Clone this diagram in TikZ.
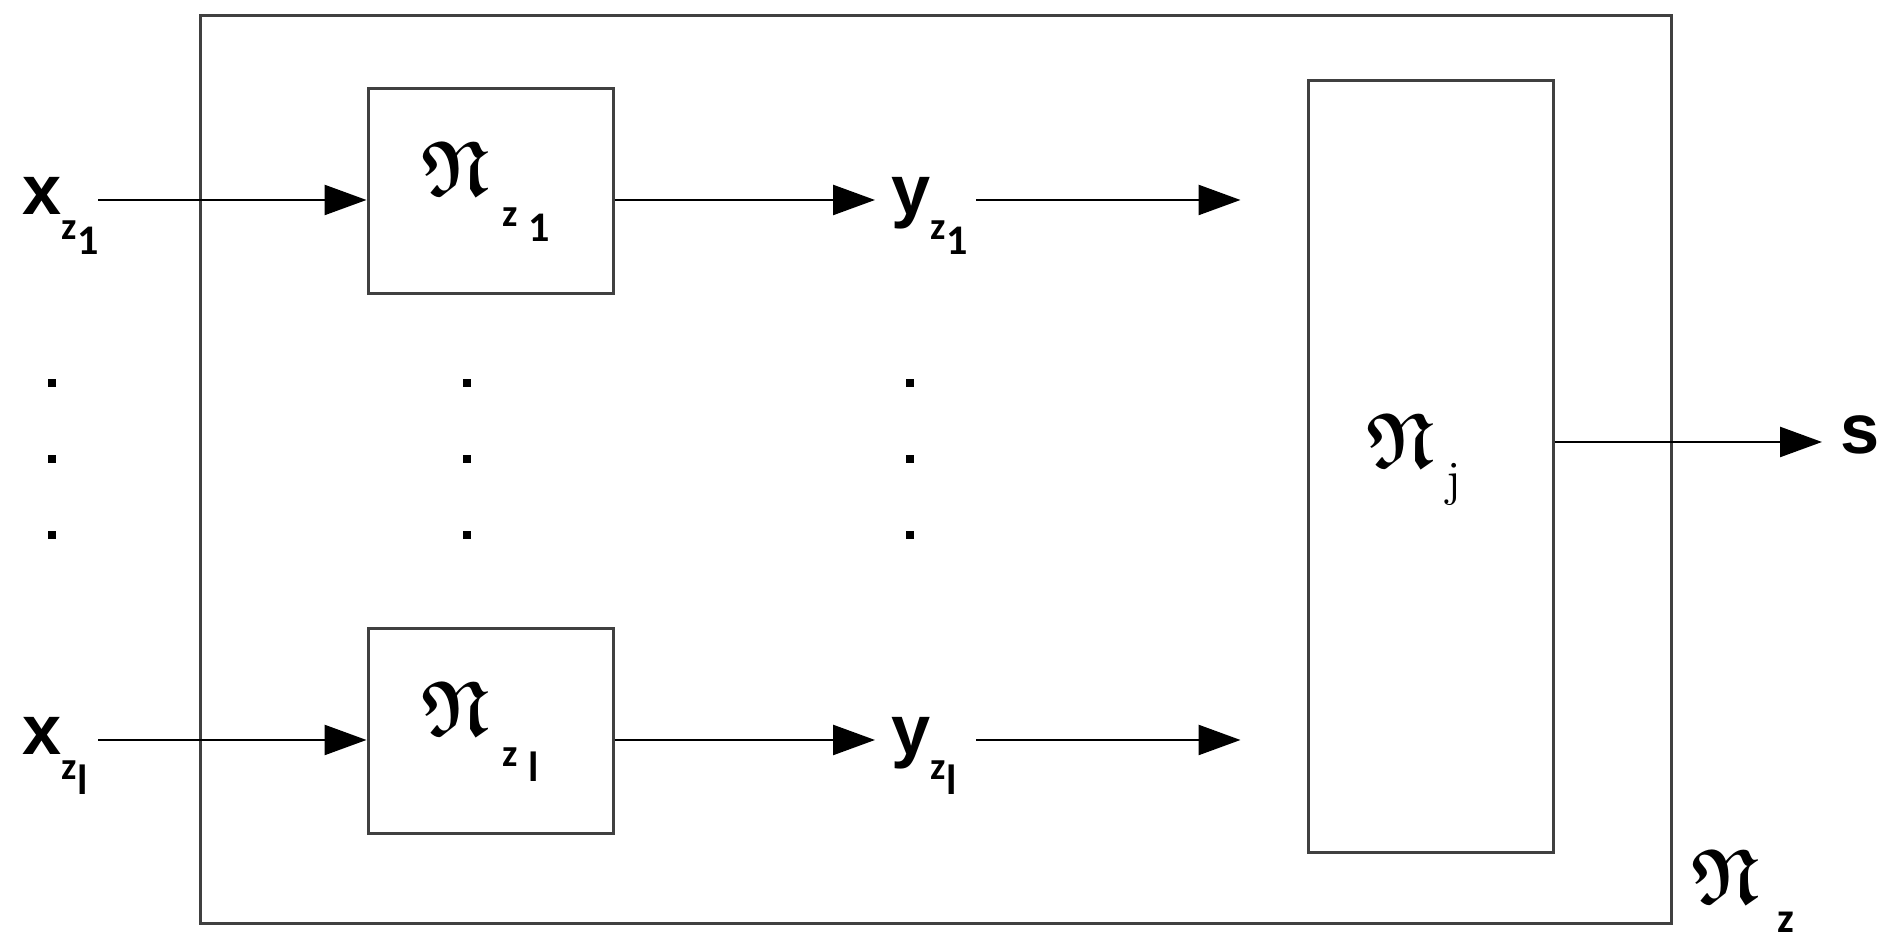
\documentclass[tikz,border=0pt]{standalone}
\usepackage{amssymb}
\usepackage{bm}
\usepackage{fontspec}
\newfontfamily\lsans{Liberation Sans}
\newfontfamily\carl{Carlito}
\usetikzlibrary{arrows.meta,positioning}

\newcommand{\zfont}{\carl\bfseries\fontsize{11}{11}\selectfont}
\newcommand{\nfont}{\carl\bfseries\fontsize{12}{12}\selectfont}
\newcommand{\idx}[3][0mm]{\raisebox{-2.5mm}{\zfont #2}\hspace{#1}\raisebox{-4mm}{\nfont #3}}
\newcommand{\frakN}{\scalebox{0.95}[1.08]{\fontsize{20.74}{20.74}\selectfont$\bm{\mathfrak{N}}$}}

\tikzset{
  blk/.style={rectangle,draw=black!75,line width=0.3mm,inner sep=0},
  sig/.style={line width=0.25mm,-{Triangle[length=4.2mm,width=3mm]}},
  lab/.style={inner sep=0,anchor=base west,font=\lsans\bfseries\fontsize{20}{20}\selectfont},
  flab/.style={inner sep=0,anchor=base west},
  dot/.style={rectangle,fill,inner sep=0,minimum width=0.75mm,minimum height=0.85mm},
}

\begin{document}
\begin{tikzpicture}[x=0.1mm,y=-0.1mm]
\useasboundingbox (0,0) rectangle (1882,950);
\coordinate (row0) at (0,442);
\coordinate (row1) at (0,200);
\coordinate (row2) at (0,740);
\node[blk,minimum width=147.1mm,minimum height=90.8mm] (zbox) at (935.5,470) {};
\node[blk,minimum width=24.5mm,minimum height=20.5mm] (box1) at (490.5,191.5) {};
\node[blk,minimum width=24.5mm,minimum height=20.5mm] (boxl) at (490.5,731.5) {};
\node[blk,minimum width=24.5mm,minimum height=77.2mm] (jbox) at (1430.5,467) {};
\node[lab] (x1) at (22,215) {x\idx{z}{1}};
\node[lab] (xl) at (22,755) {x\idx{z}{l}};
\node[lab] (y1) at (891,215) {y\idx{z}{1}};
\node[lab] (yl) at (891,755) {y\idx{z}{l}};
\node[lab] (s) at (1840,454) {s};
\node[flab] (n1) at (421,196) {\frakN\hspace{1.3mm}\raisebox{-0.6mm}{\idx[1mm]{z}{1}}};
\node[flab] (nl) at (421,736) {\frakN\hspace{1.3mm}\raisebox{-0.6mm}{\idx[1mm]{z}{l}}};
\node[flab] (nj) at (1366,468) {\frakN\hspace{1.2mm}\raisebox{-2.8mm}{\fontsize{14}{14}\selectfont j}};
\node[flab] (nz) at (1691,904) {\frakN\hspace{1.8mm}\raisebox{-2.9mm}{\carl\bfseries\fontsize{12}{12}\selectfont z}};
\coordinate (xs1) at (98,200);
\coordinate (xsl) at (98,740);
\coordinate (ys1) at (976,200);
\coordinate (ysl) at (976,740);
\foreach \c/\px in {a/52,b/467,c/910}
  \foreach \r/\py in {1/383,2/459,3/535}
    \node[dot] (d\c\r) at (\px,\py) {};
\draw[sig] (xs1) -- (box1.west |- row1);
\draw[sig,shorten >=1.6mm] (box1.east |- row1) -- (y1.west |- row1);
\draw[sig,shorten >=6.6mm] (ys1) -- (jbox.west |- row1);
\draw[sig] (xsl) -- (boxl.west |- row2);
\draw[sig,shorten >=1.6mm] (boxl.east |- row2) -- (yl.west |- row2);
\draw[sig,shorten >=6.6mm] (ysl) -- (jbox.west |- row2);
\draw[sig,shorten >=1.8mm] (jbox.east |- row0) -- (s.west |- row0);
\end{tikzpicture}
\end{document}
